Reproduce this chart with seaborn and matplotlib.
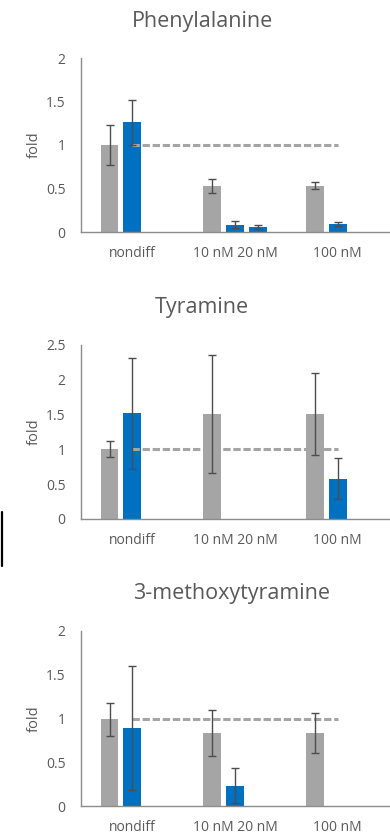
import numpy as np
import pandas as pd
import matplotlib
matplotlib.use('Agg')
import matplotlib.pyplot as plt
import seaborn as sns

categories = ['nondiff', '10 nM 20 nM', '100 nM']
series = ['gray', 'blue', 'blue2']
ref_line = [1, 1, 1]

titles = ['Phenylalanine', 'Tyramine', '3-methoxytyramine']
ytops = [2, 2.5, 2]
yticks = [[0, 0.5, 1, 1.5, 2], [0, 0.5, 1, 1.5, 2, 2.5], [0, 0.5, 1, 1.5, 2]]

# bar heights per series (gray, blue, blue2), one value per category
phe_vals = [[1.0, 0.53, 0.53], [1.26, 0.084, 0.092], [0, 0.061, 0]]
phe_errs = [[0.235, 0.078, 0.04], [0.26, 0.042, 0.027], [np.nan, 0.023, np.nan]]

tyr_vals = [[1.0, 1.505, 1.505], [1.52, 0, 0.58], [0, 0, 0]]
tyr_errs = [[0.115, 0.85, 0.59], [0.80, np.nan, 0.29], [np.nan, np.nan, np.nan]]

mtx_vals = [[0.99, 0.836, 0.836], [0.89, 0.229, 0.005], [0, 0, 0]]
mtx_errs = [[0.19, 0.26, 0.23], [0.71, 0.20, np.nan], [np.nan, np.nan, np.nan]]

panels = [(phe_vals, phe_errs), (tyr_vals, tyr_errs), (mtx_vals, mtx_errs)]

palette = {'gray': '#A5A5A5', 'blue': '#0070C0', 'blue2': '#0070C0'}
txt = '#595959'
axis_c = '#8C8C8C'

sns.set_style('white')
plt.rcParams['font.family'] = ['Open Sans', 'DejaVu Sans']

fig = plt.figure(figsize=(3.9, 8.39), dpi=100)
H = 839.0
boxes = [(58, 232), (345, 519), (631, 806)]
title_y = [21, 308, 594]
title_x = [202, 202, 232]

for k, (vals, errs) in enumerate(panels):
    top, bot = boxes[k]
    ax = fig.add_axes([81 / 390, 1 - bot / H, (389 - 81) / 390, (bot - top) / H])
    rows = []
    for s, v in zip(series, vals):
        for c, y in zip(categories, v):
            rows.append({'cat': c, 'series': s, 'val': y})
    df = pd.DataFrame(rows)
    sns.barplot(data=df, x='cat', y='val', hue='series', order=categories,
                hue_order=series, palette=palette, saturation=1, width=0.664,
                gap=0.22, linewidth=0, errorbar=None, legend=False, ax=ax, zorder=2)
    ax.plot(range(len(categories)), ref_line, color='#A5A5A5', lw=2.2,
            dashes=(2.4, 0.9), dash_capstyle='butt', zorder=3)
    for cont, v, e in zip(ax.containers, vals, errs):
        xs = [b.get_x() + b.get_width() / 2 for b in cont]
        ax.errorbar(xs, v, yerr=e, fmt='none', ecolor='#4D4D4D', elinewidth=1.0,
                    capsize=3, capthick=1.0, zorder=4)
    ax.set_xlim(-0.5, 2.5)
    ax.set_ylim(0, ytops[k])
    ax.set_yticks(yticks[k])
    ax.set_yticklabels([f'{t:g}' for t in yticks[k]])
    ax.set_xlabel('')
    ax.set_ylabel('fold', color=txt, fontsize=10.5, labelpad=3)
    ax.tick_params(axis='both', length=0, labelsize=10, labelcolor=txt)
    ax.tick_params(axis='y', pad=11)
    ax.tick_params(axis='x', pad=10)
    for side in ['top', 'right']:
        ax.spines[side].set_visible(False)
    for side in ['left', 'bottom']:
        ax.spines[side].set_color(axis_c)
        ax.spines[side].set_linewidth(1.0)
    fig.text(title_x[k] / 390, 1 - title_y[k] / H, titles[k], ha='center',
             va='center', fontsize=15.5, color=txt)

# cropped frame edge at the left margin
fig.add_artist(plt.Line2D([1.5 / 390, 1.5 / 390], [1 - 512 / H, 1 - 566 / H],
                          color='black', lw=1.6))

fig.savefig('out.png', dpi=100)
